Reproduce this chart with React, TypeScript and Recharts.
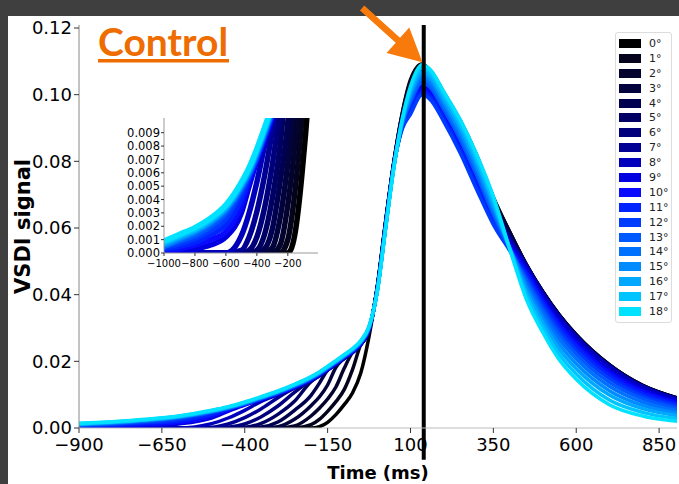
import React from 'react';
import { LineChart, Line, XAxis, YAxis, ReferenceLine, Legend, CartesianGrid, Label } from 'recharts';

const TIMES = [-1000, -900, -800, -700, -600, -500, -450, -400, -350, -300, -250, -200, -175, -150, -125, -100, -75, -50, -25, 0, 25, 50, 75, 100, 135, 160, 200, 250, 300, 350, 400, 450, 500, 550, 600, 700, 800, 905];

const S0 = [0, 0, 0, 0, 0, 0, 0, 0, 0, 0, 0, 0, 0.0004, 0.0017, 0.0040, 0.0070, 0.0105, 0.0165, 0.0275,
  0.0425, 0.0620, 0.0800, 0.0945, 0.1045, 0.1092, 0.1072, 0.1007, 0.0922, 0.0817, 0.0692, 0.0587, 0.0490, 0.0408, 0.0338, 0.0280, 0.0190, 0.0128, 0.0090];
const S1 = [0, 0, 0, 0, 0, 0, 0, 0, 0, 0, 0, 0.0010, 0.0026, 0.0050, 0.0079, 0.0115, 0.0175, 0.0251, 0.0294,
  0.0424, 0.0619, 0.0799, 0.0942, 0.1039, 0.1087, 0.1072, 0.1007, 0.0922, 0.0817, 0.0692, 0.0587, 0.0489, 0.0407, 0.0337, 0.0279, 0.0189, 0.0128, 0.0090];
const S2 = [0, 0, 0, 0, 0, 0, 0, 0, 0, 0, 0.0006, 0.0036, 0.0059, 0.0087, 0.0123, 0.0179, 0.0227, 0.0251, 0.0294,
  0.0423, 0.0618, 0.0798, 0.0937, 0.1027, 0.1076, 0.1061, 0.0996, 0.0910, 0.0804, 0.0680, 0.0584, 0.0489, 0.0407, 0.0337, 0.0279, 0.0189, 0.0127, 0.0089];
const S3 = [0, 0, 0, 0, 0, 0, 0, 0, 0, 0.0004, 0.0026, 0.0067, 0.0093, 0.0129, 0.0182, 0.0209, 0.0227, 0.0251, 0.0294,
  0.0423, 0.0616, 0.0797, 0.0936, 0.1026, 0.1076, 0.1061, 0.0996, 0.0910, 0.0804, 0.0680, 0.0583, 0.0488, 0.0406, 0.0336, 0.0278, 0.0188, 0.0127, 0.0089];
const S4 = [0, 0, 0, 0, 0, 0, 0, 0, 0.0003, 0.0018, 0.0053, 0.0098, 0.0134, 0.0174, 0.0191, 0.0209, 0.0227, 0.0251, 0.0294,
  0.0422, 0.0615, 0.0796, 0.0930, 0.1014, 0.1065, 0.1050, 0.0985, 0.0898, 0.0792, 0.0668, 0.0577, 0.0488, 0.0406, 0.0335, 0.0277, 0.0188, 0.0126, 0.0089];
const S5 = [0, 0, 0, 0, 0, 0, 0, 0.0002, 0.0014, 0.0041, 0.0080, 0.0139, 0.0157, 0.0174, 0.0191, 0.0209, 0.0227, 0.0251, 0.0294,
  0.0421, 0.0614, 0.0795, 0.0929, 0.1013, 0.1065, 0.1050, 0.0985, 0.0898, 0.0792, 0.0668, 0.0576, 0.0487, 0.0405, 0.0335, 0.0277, 0.0187, 0.0126, 0.0088];
const S6 = [0, 0, 0, 0, 0, 0, 0.0002, 0.0012, 0.0034, 0.0066, 0.0107, 0.0143, 0.0157, 0.0174, 0.0191, 0.0209, 0.0227, 0.0251, 0.0294,
  0.0420, 0.0613, 0.0794, 0.0924, 0.1002, 0.1055, 0.1040, 0.0975, 0.0886, 0.0779, 0.0656, 0.0570, 0.0487, 0.0404, 0.0334, 0.0276, 0.0186, 0.0125, 0.0088];
const S7 = [0, 0, 0, 0, 0, 0.0002, 0.0012, 0.0031, 0.0058, 0.0091, 0.0120, 0.0143, 0.0157, 0.0174, 0.0191, 0.0209, 0.0227, 0.0251, 0.0294,
  0.0419, 0.0611, 0.0793, 0.0923, 0.1001, 0.1055, 0.1040, 0.0975, 0.0886, 0.0779, 0.0656, 0.0569, 0.0486, 0.0404, 0.0333, 0.0275, 0.0186, 0.0125, 0.0088];
const S8 = [0, 0, 0, 0, 0, 0.0013, 0.0030, 0.0053, 0.0080, 0.0100, 0.0120, 0.0143, 0.0157, 0.0174, 0.0191, 0.0209, 0.0227, 0.0251, 0.0294,
  0.0418, 0.0610, 0.0792, 0.0918, 0.0989, 0.1044, 0.1029, 0.0964, 0.0874, 0.0767, 0.0644, 0.0562, 0.0485, 0.0402, 0.0332, 0.0274, 0.0185, 0.0124, 0.0087];
const S9 = [0.00005, 0.0001, 0.0003, 0.0006, 0.0012, 0.0030, 0.0050, 0.0069, 0.0085, 0.0102, 0.0122, 0.0145, 0.0159, 0.0176, 0.0193, 0.0211, 0.0229, 0.0253, 0.0296,
  0.0418, 0.0609, 0.0791, 0.0910, 0.0971, 0.1027, 0.1012, 0.0947, 0.0855, 0.0747, 0.0635, 0.0552, 0.0475, 0.0391, 0.0319, 0.0261, 0.0173, 0.0115, 0.0080];
const S10 = [0.00015, 0.0003, 0.0006, 0.0010, 0.0016, 0.0036, 0.0054, 0.0070, 0.0086, 0.0103, 0.0123, 0.0146, 0.0160, 0.0177, 0.0194, 0.0212, 0.0230, 0.0254, 0.0297,
  0.0417, 0.0608, 0.0790, 0.0905, 0.0961, 0.1018, 0.1003, 0.0938, 0.0845, 0.0736, 0.0626, 0.0545, 0.0468, 0.0383, 0.0311, 0.0253, 0.0166, 0.0110, 0.0076];
const S11 = [0.00025, 0.0005, 0.0008, 0.0014, 0.0021, 0.0041, 0.0057, 0.0071, 0.0087, 0.0104, 0.0124, 0.0147, 0.0161, 0.0178, 0.0195, 0.0213, 0.0231, 0.0255, 0.0298,
  0.0416, 0.0607, 0.0789, 0.0901, 0.0951, 0.1009, 0.0994, 0.0929, 0.0835, 0.0726, 0.0618, 0.0538, 0.0460, 0.0375, 0.0302, 0.0244, 0.0158, 0.0103, 0.0071];
const S12 = [0.00038, 0.0007, 0.0011, 0.0017, 0.0026, 0.0046, 0.0058, 0.0072, 0.0088, 0.0105, 0.0125, 0.0148, 0.0162, 0.0179, 0.0196, 0.0214, 0.0232, 0.0256, 0.0299,
  0.0415, 0.0605, 0.0788, 0.0896, 0.0941, 0.1000, 0.0985, 0.0920, 0.0825, 0.0715, 0.0610, 0.0531, 0.0450, 0.0365, 0.0291, 0.0233, 0.0148, 0.0096, 0.0066];
const S13 = [0.0005, 0.0009, 0.0013, 0.0020, 0.0030, 0.0048, 0.0059, 0.0073, 0.0089, 0.0106, 0.0126, 0.0149, 0.0163, 0.0180, 0.0197, 0.0215, 0.0233, 0.0257, 0.0300,
  0.0414, 0.0604, 0.0787, 0.0910, 0.0976, 0.1036, 0.1021, 0.0956, 0.0865, 0.0757, 0.0640, 0.0538, 0.0444, 0.0354, 0.0279, 0.0221, 0.0137, 0.0088, 0.0059];
const S14 = [0.0005, 0.0010, 0.0015, 0.0022, 0.0032, 0.0049, 0.0060, 0.0074, 0.0090, 0.0107, 0.0127, 0.0150, 0.0164, 0.0181, 0.0198, 0.0216, 0.0234, 0.0258, 0.0301,
  0.0413, 0.0603, 0.0786, 0.0913, 0.0986, 0.1047, 0.1032, 0.0967, 0.0877, 0.0770, 0.0650, 0.0538, 0.0433, 0.0342, 0.0265, 0.0208, 0.0125, 0.0078, 0.0052];
const S15 = [0.0006, 0.0011, 0.0016, 0.0023, 0.0033, 0.0050, 0.0061, 0.0075, 0.0091, 0.0108, 0.0128, 0.0151, 0.0165, 0.0182, 0.0199, 0.0217, 0.0235, 0.0259, 0.0302,
  0.0413, 0.0602, 0.0785, 0.0916, 0.0996, 0.1058, 0.1043, 0.0978, 0.0889, 0.0782, 0.0661, 0.0538, 0.0422, 0.0328, 0.0250, 0.0193, 0.0112, 0.0068, 0.0045];
const S16 = [0.0007, 0.0012, 0.0017, 0.0024, 0.0034, 0.0051, 0.0062, 0.0076, 0.0092, 0.0109, 0.0129, 0.0152, 0.0166, 0.0183, 0.0200, 0.0218, 0.0236, 0.0260, 0.0303,
  0.0412, 0.0600, 0.0784, 0.0919, 0.1005, 0.1068, 0.1053, 0.0988, 0.0901, 0.0795, 0.0672, 0.0537, 0.0410, 0.0315, 0.0235, 0.0178, 0.0099, 0.0058, 0.0037];
const S17 = [0.0008, 0.0013, 0.0018, 0.0025, 0.0035, 0.0052, 0.0063, 0.0077, 0.0093, 0.0110, 0.0130, 0.0153, 0.0167, 0.0184, 0.0201, 0.0219, 0.0237, 0.0261, 0.0304,
  0.0411, 0.0599, 0.0783, 0.0923, 0.1015, 0.1079, 0.1064, 0.0999, 0.0913, 0.0807, 0.0683, 0.0536, 0.0398, 0.0300, 0.0219, 0.0162, 0.0084, 0.0047, 0.0028];
const S18 = [0.0009, 0.0014, 0.0019, 0.0026, 0.0036, 0.0053, 0.0064, 0.0078, 0.0094, 0.0111, 0.0131, 0.0154, 0.0168, 0.0185, 0.0202, 0.0220, 0.0238, 0.0262, 0.0305,
  0.0410, 0.0598, 0.0782, 0.0926, 0.1025, 0.1090, 0.1075, 0.1010, 0.0925, 0.0820, 0.0695, 0.0535, 0.0385, 0.0285, 0.0203, 0.0146, 0.0070, 0.0036, 0.0020];

const SERIES = [S0, S1, S2, S3, S4, S5, S6, S7, S8, S9, S10, S11, S12, S13, S14, S15, S16, S17, S18];
const ANGLES = ['0°', '1°', '2°', '3°', '4°', '5°', '6°', '7°', '8°', '9°', '10°', '11°', '12°', '13°', '14°', '15°', '16°', '17°', '18°'];
const COLORS = ['#000000', '#04041c', '#03032e', '#02023c', '#000050', '#000064', '#00007c', '#000094', '#0000bc', '#0000e0',
  '#0a0aff', '#0024ff', '#003cff', '#0058ff', '#0070ff', '#008cff', '#00a8ff', '#00c4ff', '#00e2ff'];

const X_TICKS = [-900, -650, -400, -150, 100, 350, 600, 850];
const Y_TICKS = [0, 0.02, 0.04, 0.06, 0.08, 0.1, 0.12];
const INSET_X_TICKS = [-1000, -800, -600, -400, -200];
const INSET_Y_TICKS = [0, 0.001, 0.002, 0.003, 0.004, 0.005, 0.006, 0.007, 0.008, 0.009];
const X_DOMAIN = [-900, 904];
const Y_DOMAIN = [0, 0.1209];
const INSET_X_DOMAIN = [-1000, -5];
const INSET_Y_DOMAIN = [0, 0.0101];
const PEAK_TIME = 140;
const ARROW_TAIL = { x: -46, y: 0.126 };
const ARROW_HEAD = { x: 136, y: 0.1097 };

const ORANGE = '#f77a0a';
const TEXT_ORANGE = '#ee6c00';
const FONT = 'DejaVu Sans';

const data = TIMES.map((t, i) => {
  const row: any = { t };
  SERIES.forEach((s, k) => { row['s' + k] = s[i]; });
  return row;
});

const fmtMinus = (v: number) => (v < 0 ? '\u2212' + Math.abs(v) : String(v));

const renderArrow = (p: any) => {
  const { x1, y1, x2, y2 } = p;
  const dx = x2 - x1, dy = y2 - y1;
  const len = Math.hypot(dx, dy) || 1;
  const ux = dx / len, uy = dy / len;
  const nx = -uy, ny = ux;
  const headLen = 33, headHalf = 17, shaft = 3.2;
  const bx = x2 - ux * headLen, by = y2 - uy * headLen;
  const pts = [
    [x1 + nx * shaft, y1 + ny * shaft],
    [bx + nx * shaft, by + ny * shaft],
    [bx + nx * headHalf, by + ny * headHalf],
    [x2, y2],
    [bx - nx * headHalf, by - ny * headHalf],
    [bx - nx * shaft, by - ny * shaft],
    [x1 - nx * shaft, y1 - ny * shaft],
  ].map((q) => q.join(',')).join(' ');
  return <polygon points={pts} fill={ORANGE} />;
};

const XLabel = (p: any) => {
  const vb = p.viewBox;
  return (
    <text x={vb.x + vb.width / 2} y={vb.y + 44} textAnchor="middle" dominantBaseline="central"
      fontFamily={FONT} fontWeight="bold" fontSize={18} fill="#000">Time (ms)</text>
  );
};

const YLabel = (p: any) => {
  const vb = p.viewBox;
  const cx = vb.x + 14;
  const cy = vb.y + vb.height / 2;
  return (
    <text x={cx} y={cy} textAnchor="middle" dominantBaseline="central" transform={`rotate(-90, ${cx}, ${cy})`}
      fontFamily={FONT} fontWeight="bold" fontSize={21} fill="#000">VSDI signal</text>
  );
};

const renderLegend = (props: any) => {
  const items = [...(props.payload || [])].sort((a: any, b: any) => ANGLES.indexOf(a.value) - ANGLES.indexOf(b.value));
  return (
    <div style={{ border: '1px solid #dcdcdc', borderRadius: 3, background: 'rgba(255,255,255,0.85)', padding: '3px 2px 3px 3px', boxSizing: 'content-box' }}>
      {items.map((it: any) => (
        <div key={it.value} style={{ height: 14.9, display: 'flex', alignItems: 'center' }}>
          <div style={{ width: 22, height: 9, background: it.color, marginRight: 8 }} />
          <span style={{ fontFamily: FONT, fontSize: 11, color: '#222', lineHeight: '1' }}>{it.value}</span>
        </div>
      ))}
    </div>
  );
};

export default function App() {
  return (
    <div style={{ position: 'absolute', left: 0, top: 0, width: 679, height: 484, background: '#3f3f3f', overflow: 'hidden' }}>
      <div style={{ position: 'absolute', left: 8, top: 16, width: 671, height: 468, background: '#fff' }} />
      <div style={{ position: 'absolute', left: 0, top: 0 }}>
        <LineChart width={679} height={484} data={data} margin={{ top: 25, right: 2, bottom: 6, left: 9 }}>
          <XAxis dataKey="t" type="number" domain={X_DOMAIN} allowDataOverflow ticks={X_TICKS} tickFormatter={fmtMinus}
            height={50} tickSize={5} tickMargin={5} interval={0}
            tick={{ fontSize: 18, fill: '#000', fontFamily: FONT }}
            axisLine={{ stroke: '#bbb' }} tickLine={{ stroke: '#333' }}
            label={<Label content={XLabel} />} />
          <XAxis xAxisId="top" orientation="top" dataKey="t" type="number" domain={X_DOMAIN} allowDataOverflow
            height={0} tick={false} tickLine={false} axisLine={{ stroke: '#888' }} />
          <YAxis type="number" domain={Y_DOMAIN} allowDataOverflow ticks={Y_TICKS} width={70}
            tickFormatter={(v: number) => v.toFixed(2)} tickSize={5} tickMargin={2} interval={0}
            tick={{ fontSize: 18, fill: '#000', fontFamily: FONT }}
            axisLine={{ stroke: '#888' }} tickLine={{ stroke: '#333' }}
            label={<Label content={YLabel} />} />
          <YAxis yAxisId="right" orientation="right" type="number" domain={Y_DOMAIN} allowDataOverflow width={0}
            tick={false} tickLine={false} axisLine={{ stroke: '#888' }} />
          {SERIES.map((_, k) => (
            <Line key={k} dataKey={'s' + k} name={ANGLES[k]} stroke={COLORS[k]} strokeWidth={3.5}
              dot={false} activeDot={false} type="monotone" isAnimationActive={false} />
          ))}
          <ReferenceLine segment={[{ x: PEAK_TIME, y: Y_DOMAIN[1] }, { x: PEAK_TIME, y: -0.0095 }]}
            stroke="#000" strokeWidth={4} ifOverflow="visible" />
          <ReferenceLine segment={[ARROW_TAIL, ARROW_HEAD]} ifOverflow="visible" shape={renderArrow} />
          <Legend layout="vertical" align="center" verticalAlign="middle" content={renderLegend}
            wrapperStyle={{ left: 615, top: 32, width: 'auto', height: 'auto' }} />
        </LineChart>
      </div>
      <div style={{ position: 'absolute', left: 100, top: 110 }}>
        <LineChart width={230} height={160} data={data} margin={{ top: 8, right: 12, bottom: 0, left: 0 }}>
          <CartesianGrid fill="#fff" horizontal={false} vertical={false} />
          <XAxis dataKey="t" type="number" domain={INSET_X_DOMAIN} allowDataOverflow ticks={INSET_X_TICKS}
            tickFormatter={fmtMinus} height={17} tickSize={3} tickMargin={4} interval={0}
            tick={{ fontSize: 10, fill: '#000', fontFamily: FONT }}
            axisLine={{ stroke: '#999' }} tickLine={{ stroke: '#333' }} />
          <XAxis xAxisId="top" orientation="top" dataKey="t" type="number" domain={INSET_X_DOMAIN} allowDataOverflow
            height={0} tick={false} tickLine={false} axisLine={{ stroke: '#999' }} />
          <YAxis type="number" domain={INSET_Y_DOMAIN} allowDataOverflow ticks={INSET_Y_TICKS} width={64}
            tickFormatter={(v: number) => v.toFixed(3)} tickSize={3} tickMargin={1} interval={0}
            tick={{ fontSize: 11.5, fill: '#000', fontFamily: FONT }}
            axisLine={{ stroke: '#999' }} tickLine={{ stroke: '#333' }} />
          <YAxis yAxisId="right" orientation="right" type="number" domain={INSET_Y_DOMAIN} allowDataOverflow width={0}
            tick={false} tickLine={false} axisLine={{ stroke: '#999' }} />
          {SERIES.map((_, k) => (
            <Line key={k} dataKey={'s' + k} name={ANGLES[k]} stroke={COLORS[k]} strokeWidth={5.5}
              dot={false} activeDot={false} type="monotone" isAnimationActive={false} />
          ))}
        </LineChart>
      </div>
      <svg width={679} height={484} style={{ position: 'absolute', left: 0, top: 0, pointerEvents: 'none' }}>
        <text x={98} y={56} fill={TEXT_ORANGE} fontFamily="Lato" fontWeight={700} fontSize={39}>Control</text>
        <rect x={98} y={59} width={131} height={3.5} fill={TEXT_ORANGE} />
      </svg>
    </div>
  );
}
